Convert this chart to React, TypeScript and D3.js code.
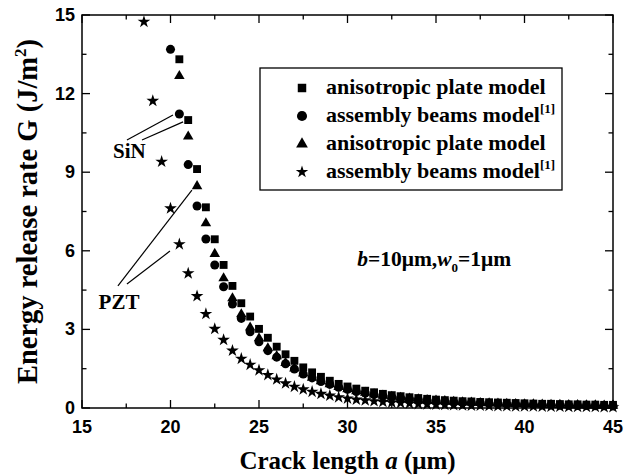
import React, { useEffect, useRef } from 'react';
import * as d3 from 'd3';

// crack length grid (um), 0.5 um steps
const CRACK_LENGTH = [
    18.5, 19, 19.5, 20, 20.5, 21, 21.5, 22, 22.5, 23, 23.5, 24, 24.5, 25, 25.5, 26, 26.5, 27,
    27.5, 28, 28.5, 29, 29.5, 30, 30.5, 31, 31.5, 32, 32.5, 33, 33.5, 34, 34.5, 35, 35.5, 36,
    36.5, 37, 37.5, 38, 38.5, 39, 39.5, 40, 40.5, 41, 41.5, 42, 42.5, 43, 43.5, 44, 44.5, 45
];

// SiN, anisotropic plate model (squares), from a = 20.5
const SIN_PLATE = [
    13.31, 10.99, 9.12, 7.66, 6.44, 5.46, 4.66, 4.00, 3.49, 3.02, 2.68, 2.34, 2.05, 1.80,
    1.55, 1.36, 1.19, 1.04, 0.92, 0.82, 0.74, 0.66, 0.60, 0.54, 0.49, 0.45, 0.41, 0.38,
    0.35, 0.32, 0.30, 0.28, 0.26, 0.25, 0.23, 0.22, 0.21, 0.20, 0.19, 0.18, 0.17, 0.16,
    0.16, 0.15, 0.14, 0.14, 0.13, 0.13, 0.12, 0.12
];

// SiN, assembly beams model (circles), from a = 20
const SIN_BEAMS = [
    13.69, 11.22, 9.29, 7.71, 6.45, 5.46, 4.63, 3.97, 3.42, 2.91, 2.53, 2.19, 1.94, 1.69,
    1.49, 1.30, 1.15, 1.01, 0.90, 0.79, 0.71, 0.63, 0.57, 0.51, 0.46, 0.42, 0.38, 0.35,
    0.32, 0.29, 0.27, 0.25, 0.23, 0.21, 0.20, 0.19, 0.17, 0.16, 0.15, 0.15, 0.14, 0.13,
    0.12, 0.12, 0.11, 0.11, 0.10, 0.10, 0.09, 0.09, 0.08
];

// PZT, anisotropic plate model (triangles), from a = 20.5
const PZT_PLATE = [
    12.67, 10.36, 8.47, 7.05, 5.88, 4.95, 4.19, 3.58, 3.07, 2.66, 2.28, 1.98, 1.72, 1.51,
    1.32, 1.16, 1.02, 0.91, 0.80, 0.72, 0.64, 0.58, 0.52, 0.47, 0.43, 0.39, 0.36, 0.33,
    0.30, 0.28, 0.26, 0.24, 0.22, 0.21, 0.19, 0.18, 0.17, 0.16, 0.15, 0.14, 0.14, 0.13,
    0.12, 0.12, 0.11, 0.11, 0.10, 0.10, 0.09, 0.09
];

// PZT, assembly beams model (stars), from a = 18.5
const PZT_BEAMS = [
    14.74, 11.72, 9.40, 7.62, 6.25, 5.14, 4.27, 3.59, 3.02, 2.60, 2.19, 1.88, 1.65, 1.44,
    1.26, 1.09, 0.94, 0.81, 0.71, 0.62, 0.54, 0.47, 0.41, 0.36, 0.32, 0.29, 0.26, 0.23,
    0.21, 0.19, 0.17, 0.15, 0.14, 0.13, 0.12, 0.11, 0.10, 0.09, 0.09, 0.08, 0.07, 0.07,
    0.06, 0.06, 0.06, 0.05, 0.05, 0.05, 0.04, 0.04, 0.04, 0.04, 0.03, 0.03
];

const X_TICKS = [15, 20, 25, 30, 35, 40, 45];
const X_MINOR = [17.5, 22.5, 27.5, 32.5, 37.5, 42.5];
const Y_TICKS = [0, 3, 6, 9, 12, 15];
const Y_MINOR = [1.5, 4.5, 7.5, 10.5, 13.5];

const LEGEND_LABELS = ['anisotropic plate model', 'assembly beams model', 'anisotropic plate model', 'assembly beams model'];
const LEGEND_REF = ['', '[1]', '', '[1]'];

const SERIF = '"Liberation Serif", "Times New Roman", serif';
const SANS = '"Liberation Sans", Arial, sans-serif';

const App = () => {
    const svgRef = useRef(null);

    useEffect(() => {
        if (!svgRef.current) return;
        const svg = d3.select(svgRef.current);
        svg.selectAll('*').remove();

        const width = 626;
        const height = 476;
        const margin = { top: 15, right: 13, bottom: 68, left: 82 };

        const x = d3.scaleLinear().domain([15, 45]).range([margin.left, width - margin.right]);
        const y = d3.scaleLinear().domain([0, 15]).range([height - margin.bottom, margin.top]);

        const [x0, x1] = x.range();
        const [y0, y1] = y.range();

        // series: values, start index in the grid, symbol, size
        const series = [
            { values: PZT_BEAMS, start: 0, symbol: d3.symbolStar, size: 50 },
            { values: SIN_BEAMS, start: 3, symbol: d3.symbolCircle, size: 64 },
            { values: PZT_PLATE, start: 4, symbol: d3.symbolTriangle, size: 48 },
            { values: SIN_PLATE, start: 4, symbol: d3.symbolSquare, size: 62 },
        ];

        const marks = svg.append('g');
        series.forEach(s => {
            const pts = s.values.map((v, i) => [CRACK_LENGTH[s.start + i], v]);
            marks.append('g')
                .selectAll('path')
                .data(pts)
                .join('path')
                .attr('d', d3.symbol(s.symbol, s.size))
                .attr('transform', d => `translate(${x(d[0])},${y(d[1])})`)
                .attr('fill', '#000');
        });

        // frame
        svg.append('rect')
            .attr('x', x0).attr('y', y1)
            .attr('width', x1 - x0).attr('height', y0 - y1)
            .attr('fill', 'none').attr('stroke', '#000').attr('stroke-width', 1.5);

        // ticks, pointing inward on all four sides
        const ticks = svg.append('g').attr('stroke', '#000').attr('stroke-width', 1.3);
        const xTicks = X_TICKS.map(v => ({ v, len: 8 })).concat(X_MINOR.map(v => ({ v, len: 4.5 })));
        const yTicks = Y_TICKS.map(v => ({ v, len: 8 })).concat(Y_MINOR.map(v => ({ v, len: 4.5 })));
        xTicks.forEach(t => {
            ticks.append('line').attr('x1', x(t.v)).attr('x2', x(t.v)).attr('y1', y0).attr('y2', y0 - t.len);
            ticks.append('line').attr('x1', x(t.v)).attr('x2', x(t.v)).attr('y1', y1).attr('y2', y1 + t.len);
        });
        yTicks.forEach(t => {
            ticks.append('line').attr('y1', y(t.v)).attr('y2', y(t.v)).attr('x1', x0).attr('x2', x0 + t.len);
            ticks.append('line').attr('y1', y(t.v)).attr('y2', y(t.v)).attr('x1', x1).attr('x2', x1 - t.len);
        });

        // tick labels
        svg.append('g')
            .selectAll('text')
            .data(X_TICKS)
            .join('text')
            .attr('x', d => x(d))
            .attr('y', y0 + 25)
            .attr('text-anchor', 'middle')
            .style('font-family', SANS)
            .style('font-weight', 'bold')
            .style('font-size', '18px')
            .text(d => d);

        svg.append('g')
            .selectAll('text')
            .data(Y_TICKS)
            .join('text')
            .attr('x', x0 - 7)
            .attr('y', d => y(d) + 6)
            .attr('text-anchor', 'end')
            .style('font-family', SANS)
            .style('font-weight', 'bold')
            .style('font-size', '18px')
            .text(d => d);

        // axis titles
        const xTitle = svg.append('text')
            .attr('x', (x0 + x1) / 2)
            .attr('y', 469)
            .attr('text-anchor', 'middle')
            .style('font-family', SERIF)
            .style('font-weight', 'bold')
            .style('font-size', '25px');
        xTitle.append('tspan').text('Crack length ');
        xTitle.append('tspan').style('font-style', 'italic').text('a');
        xTitle.append('tspan').text(' (\u03bcm)');

        const yTitle = svg.append('text')
            .attr('transform', `translate(37,${(y0 + y1) / 2}) rotate(-90)`)
            .attr('text-anchor', 'middle')
            .style('font-family', SERIF)
            .style('font-weight', 'bold')
            .style('font-size', '28.5px');
        yTitle.append('tspan').text('Energy release rate G (J/m');
        yTitle.append('tspan').attr('dy', -11).style('font-size', '17px').text('2');
        yTitle.append('tspan').attr('dy', 11).text(')');

        // legend
        const legend = svg.append('g');
        legend.append('rect')
            .attr('x', 260).attr('y', 68)
            .attr('width', 302).attr('height', 122)
            .attr('fill', '#fff').attr('stroke', '#000').attr('stroke-width', 1.3);
        const legendSymbols = [
            { symbol: d3.symbolSquare, size: 72 },
            { symbol: d3.symbolCircle, size: 80 },
            { symbol: d3.symbolTriangle, size: 60 },
            { symbol: d3.symbolStar, size: 48 },
        ];
        LEGEND_LABELS.forEach((label, i) => {
            const cy = 88 + i * 28;
            legend.append('path')
                .attr('d', d3.symbol(legendSymbols[i].symbol, legendSymbols[i].size))
                .attr('transform', `translate(302,${cy})`)
                .attr('fill', '#000');
            const t = legend.append('text')
                .attr('x', 326)
                .attr('y', cy + 6)
                .style('font-family', SERIF)
                .style('font-weight', 'bold')
                .style('font-size', '22px');
            t.append('tspan').text(label);
            if (LEGEND_REF[i]) {
                t.append('tspan').attr('dy', -9).style('font-size', '13px').text(LEGEND_REF[i]);
            }
        });

        // parameter note
        const note = svg.append('text')
            .attr('x', x(30.55))
            .attr('y', y(5.42))
            .style('font-family', SERIF)
            .style('font-weight', 'bold')
            .style('font-size', '21.5px');
        note.append('tspan').style('font-style', 'italic').text('b');
        note.append('tspan').text('=10\u03bcm,');
        note.append('tspan').style('font-style', 'italic').text('w');
        note.append('tspan').attr('dy', 6).style('font-size', '13px').text('0');
        note.append('tspan').attr('dy', -6).text('=1\u03bcm');

        // material annotations, given in data units
        const annotations = [
            { label: 'SiN', at: [17.68, 9.54], lines: [[[17.54, 10.23], [20.14, 11.18]], [[18.39, 10.23], [20.71, 10.92]]] },
            { label: 'PZT', at: [17.09, 3.78], lines: [[[17.03, 4.66], [21.21, 8.32]], [[17.54, 4.73], [19.97, 5.99]]] },
        ];
        annotations.forEach(a => {
            svg.append('text')
                .attr('x', x(a.at[0]))
                .attr('y', y(a.at[1]))
                .attr('text-anchor', 'middle')
                .style('font-family', SERIF)
                .style('font-weight', 'bold')
                .style('font-size', '21px')
                .text(a.label);
            a.lines.forEach(l => {
                svg.append('line')
                    .attr('x1', x(l[0][0])).attr('y1', y(l[0][1]))
                    .attr('x2', x(l[1][0])).attr('y2', y(l[1][1]))
                    .attr('stroke', '#000').attr('stroke-width', 1.2);
            });
        });
    }, []);

    return (
        <svg ref={svgRef} width={626} height={476}
            style={{ position: 'absolute', left: 0, top: 0, background: '#fff' }} />
    );
};

export default App;
